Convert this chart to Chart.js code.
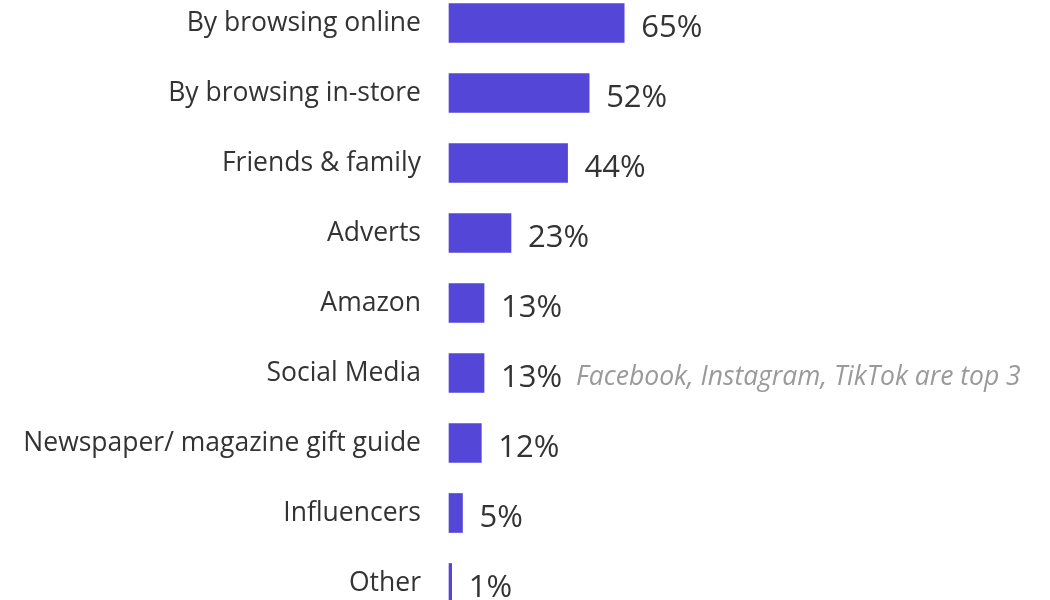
<!DOCTYPE html>
<html>
<head>
<meta charset="utf-8">
<script src="https://cdn.jsdelivr.net/npm/chart.js@4.4.1/dist/chart.umd.min.js"></script>
<style>
  html, body { margin: 0; padding: 0; background: #ffffff; }
  #wrap { width: 1050px; height: 600px; position: relative; }
</style>
</head>
<body>
<div id="wrap"><canvas id="chart"></canvas></div>
<script>
// How people find gift ideas (share of respondents, %)
const categories = [
  'By browsing online',
  'By browsing in-store',
  'Friends & family',
  'Adverts',
  'Amazon',
  'Social Media',
  'Newspaper/ magazine gift guide',
  'Influencers',
  'Other'
];
const shares = [65, 52, 44, 23, 13, 13, 12, 5, 1];
const notes = ['', '', '', '', '', 'Facebook, Instagram, TikTok are top 3', '', '', ''];

const BAR_COLOR = '#5447d8';
const TEXT_COLOR = '#333333';
const NOTE_COLOR = '#9a9a9a';
const FONT = '"Open Sans", "Noto Sans", sans-serif';

// Writes "NN%" after each bar, plus an optional grey italic note.
const valueLabels = {
  id: 'valueLabels',
  afterDatasetsDraw(chart) {
    const ctx = chart.ctx;
    const meta = chart.getDatasetMeta(0);
    ctx.save();
    ctx.textAlign = 'left';
    ctx.textBaseline = 'alphabetic';
    meta.data.forEach((bar, i) => {
      const label = shares[i] + '%';
      const x = bar.x + 17;
      const y = bar.y + 14;
      ctx.font = '31px ' + FONT;
      ctx.fillStyle = TEXT_COLOR;
      ctx.fillText(label, x, y);
      if (notes[i]) {
        const w = ctx.measureText(label).width;
        ctx.font = 'italic 26.5px ' + FONT;
        ctx.fillStyle = NOTE_COLOR;
        ctx.fillText(notes[i], x + w + 14, y - 2);
      }
    });
    ctx.restore();
  }
};

new Chart(document.getElementById('chart'), {
  type: 'bar',
  data: {
    labels: categories,
    datasets: [{
      data: shares,
      backgroundColor: BAR_COLOR,
      borderWidth: 0,
      barThickness: 39,
      clip: false
    }]
  },
  options: {
    indexAxis: 'y',
    responsive: true,
    maintainAspectRatio: false,
    animation: false,
    layout: { padding: { top: 23, bottom: 17, left: 0, right: 0 } },
    plugins: {
      legend: { display: false },
      tooltip: { enabled: false }
    },
    scales: {
      x: {
        display: false,
        min: 0,
        max: 223
      },
      y: {
        offset: false,
        grid: { display: false, drawTicks: false },
        border: { display: false },
        ticks: {
          color: TEXT_COLOR,
          padding: 28,
          font: { family: FONT, size: 26.5 }
        },
        afterFit(scale) {
          scale.width = 449;
          scale.paddingTop = 0;
          scale.paddingBottom = 0;
        }
      }
    }
  },
  plugins: [valueLabels]
});
</script>
</body>
</html>
